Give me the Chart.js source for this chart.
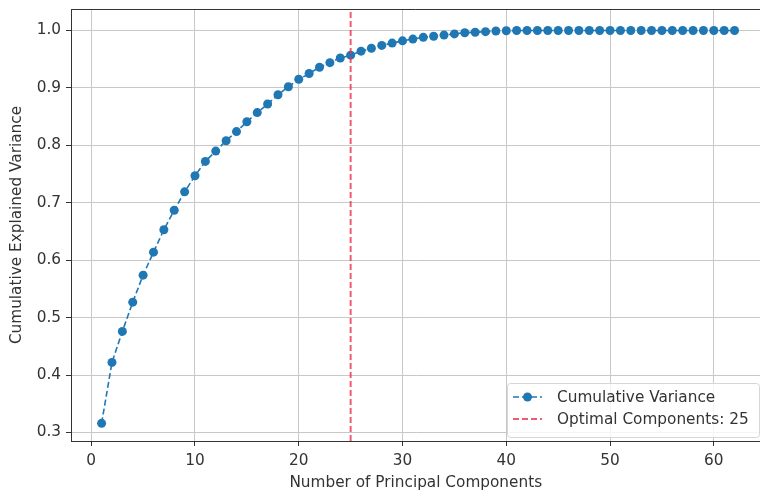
<!DOCTYPE html>
<html>
<head>
<meta charset="utf-8">
<script src="https://cdn.jsdelivr.net/npm/chart.js@4"></script>
<style>
  html, body { margin: 0; padding: 0; background: #fff; overflow: hidden; }
  #wrap { width: 760px; height: 496px; overflow: hidden; }
</style>
</head>
<body>
<div id="wrap"><canvas id="chart" width="765" height="496"></canvas></div>
<script>
// component index 1..62
const components = Array.from({ length: 62 }, (_, i) => i + 1);
const cumulativeVariance = [
  0.316, 0.422, 0.476, 0.527, 0.574, 0.614, 0.653, 0.687, 0.719, 0.747,
  0.772, 0.790, 0.808, 0.824, 0.841, 0.857, 0.872, 0.888, 0.902, 0.915,
  0.925, 0.936, 0.944, 0.952, 0.957, 0.964, 0.969, 0.974, 0.978, 0.982,
  0.985, 0.988, 0.990, 0.992, 0.994, 0.996, 0.997, 0.998, 0.999, 0.9995,
  1.0, 1.0, 1.0, 1.0, 1.0, 1.0, 1.0, 1.0, 1.0, 1.0,
  1.0, 1.0, 1.0, 1.0, 1.0, 1.0, 1.0, 1.0, 1.0, 1.0,
  1.0, 1.0
];
const optimalComponents = 25;
const xTicks = [0, 10, 20, 30, 40, 50, 60];
const yTicks = [0.3, 0.4, 0.5, 0.6, 0.7, 0.8, 0.9, 1.0];

const FONT = "'DejaVu Sans', sans-serif";
const FS = 15.3;
const BLUE = "#1f77b4";
const RED = "rgba(235, 50, 75, 0.8)";
const GRID = "#c8c8c8";

// top spine + legend box, matplotlib style
const framePlugin = {
  id: "frame",
  afterDraw(chart) {
    const { ctx, chartArea } = chart;
    ctx.save();
    ctx.strokeStyle = "#333";
    ctx.lineWidth = 1;
    ctx.beginPath();
    ctx.moveTo(chartArea.left, chartArea.top + 0.5);
    ctx.lineTo(chartArea.right, chartArea.top + 0.5);
    ctx.stroke();

    // legend
    const x = 507, y = 383, w = 252, h = 54, r = 3;
    ctx.fillStyle = "rgba(255,255,255,0.8)";
    ctx.strokeStyle = "#d6d6d6";
    ctx.beginPath();
    ctx.roundRect(x + 0.5, y + 0.5, w, h, r);
    ctx.fill();
    ctx.stroke();

    const ds = chart.data.datasets;
    const rows = [y + 14, y + 36];
    ds.forEach((d, i) => {
      const cy = rows[i];
      ctx.strokeStyle = d.borderColor;
      ctx.lineWidth = d.borderWidth;
      ctx.setLineDash(d.borderDash);
      ctx.beginPath();
      ctx.moveTo(513, cy);
      ctx.lineTo(542, cy);
      ctx.stroke();
      ctx.setLineDash([]);
      if (d.pointRadius > 0) {
        ctx.fillStyle = d.pointBackgroundColor;
        ctx.beginPath();
        ctx.arc(527.5, cy, d.pointRadius, 0, Math.PI * 2);
        ctx.fill();
      }
      ctx.fillStyle = "#333";
      ctx.font = FS + "px " + FONT;
      ctx.textBaseline = "middle";
      ctx.fillText(d.label, 557, cy + 1);
    });
    ctx.restore();
  }
};

new Chart(document.getElementById("chart"), {
  type: "scatter",
  data: {
    datasets: [
      {
        label: "Cumulative Variance",
        data: components.map((c, i) => ({ x: c, y: cumulativeVariance[i] })),
        showLine: true,
        borderColor: BLUE,
        borderWidth: 1.6,
        borderDash: [6, 3],
        pointRadius: 4.5,
        pointHoverRadius: 4.5,
        pointBackgroundColor: BLUE,
        pointBorderWidth: 0,
        order: 1
      },
      {
        label: "Optimal Components: " + optimalComponents,
        data: [{ x: optimalComponents, y: -1 }, { x: optimalComponents, y: 2 }],
        showLine: true,
        borderColor: RED,
        borderWidth: 2,
        borderDash: [6, 3],
        pointRadius: 0,
        order: 0
      }
    ]
  },
  options: {
    responsive: false,
    animation: false,
    layout: { padding: { top: 9, right: 0, left: 0, bottom: 0 } },
    plugins: {
      legend: { display: false },
      tooltip: { enabled: false }
    },
    scales: {
      x: {
        type: "linear",
        min: -1.95,
        max: 64.5,
        afterBuildTicks: (s) => { s.ticks = xTicks.map((v) => ({ value: v })); },
        afterFit: (s) => { s.height = 55; s.paddingLeft = 0; s.paddingRight = 0; },
        grid: { color: GRID, lineWidth: 1, tickColor: "#333", tickLength: 5 },
        border: { display: true, color: "#333", width: 1 },
        ticks: { color: "#333", font: { family: FONT, size: FS }, padding: 6, maxRotation: 0 },
        title: {
          display: true,
          text: "Number of Principal Components",
          color: "#333",
          font: { family: FONT, size: FS },
          padding: { bottom: 4 }
        }
      },
      y: {
        min: 0.2852,
        max: 1.0374,
        afterBuildTicks: (s) => { s.ticks = yTicks.map((v) => ({ value: v })); },
        afterFit: (s) => { s.width = 71; s.paddingTop = 0; s.paddingBottom = 0; },
        grid: { color: GRID, lineWidth: 1, tickColor: "#333", tickLength: 5 },
        border: { display: true, color: "#333", width: 1 },
        ticks: {
          color: "#333",
          font: { family: FONT, size: FS },
          padding: 5,
          callback: (v) => v.toFixed(1)
        },
        title: {
          display: true,
          text: "Cumulative Explained Variance",
          color: "#333",
          font: { family: FONT, size: FS },
          padding: { top: 8 }
        }
      }
    }
  },
  plugins: [framePlugin]
});
</script>
</body>
</html>
